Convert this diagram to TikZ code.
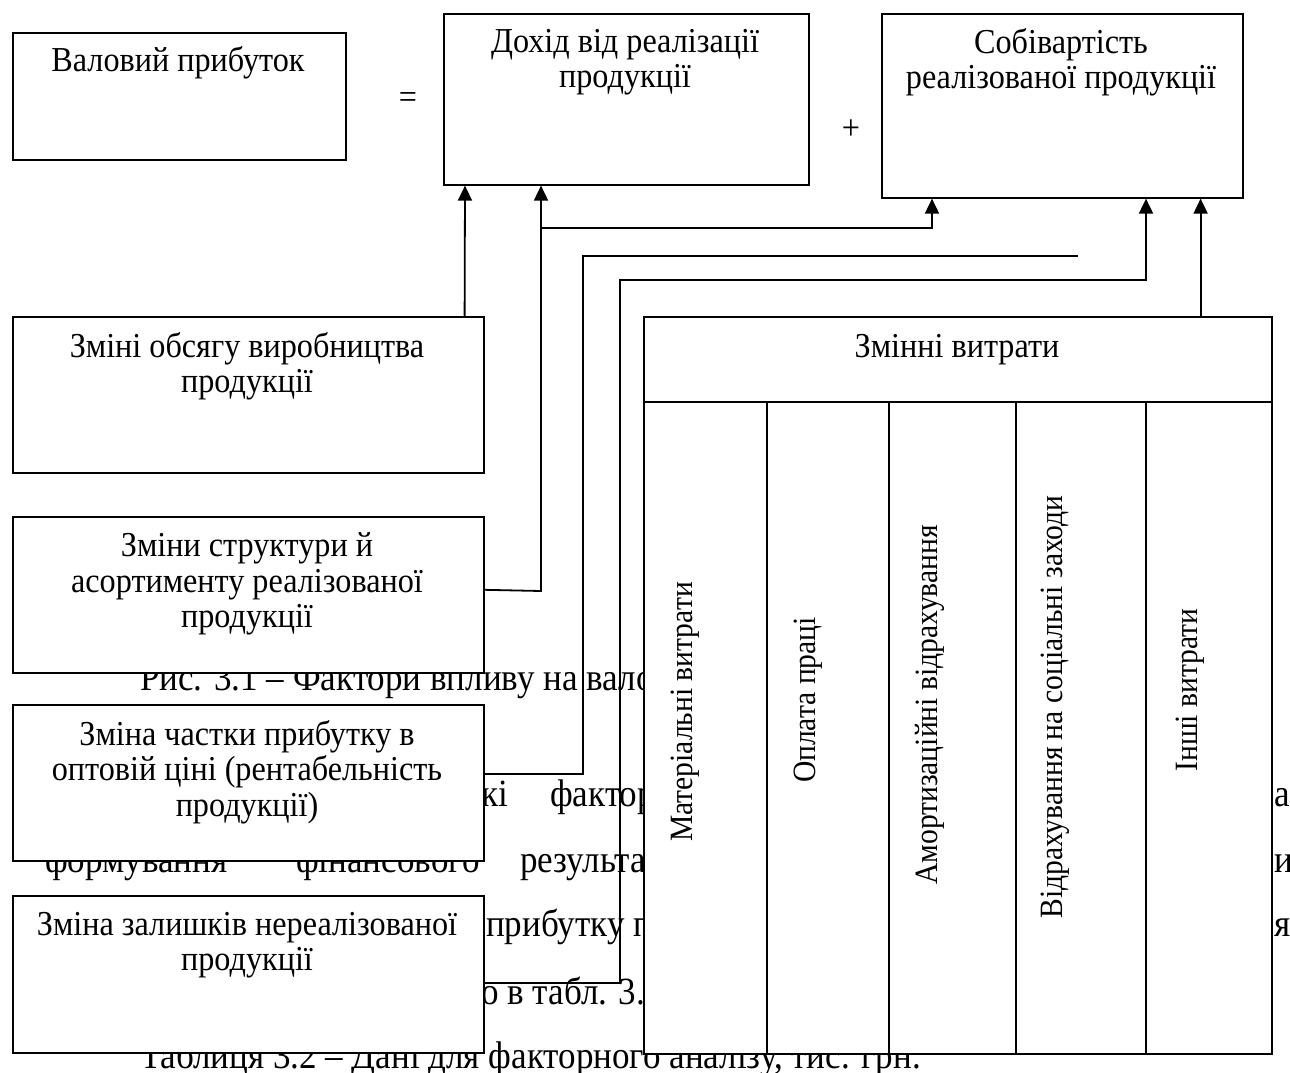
\documentclass[tikz,border=0pt]{standalone}
\usepackage{fontspec}
\setmainfont{Liberation Serif}
\newfontfamily\nfont[FakeStretch=0.92,Ligatures=TeX]{Liberation Serif}
\newfontfamily\bfontx[FakeStretch=0.91,Ligatures=TeX]{Liberation Serif}
\usetikzlibrary{arrows.meta}
\tikzset{
  box/.style={draw, line width=1.6pt, fill=white, inner sep=0pt, anchor=north west},
  btxt/.style={font=\nfont\fontsize{35}{35.5}\selectfont, align=center, inner sep=0pt},
  body/.style={font=\bfontx\fontsize{38.5}{44}\selectfont, inner sep=0pt, anchor=base west},
  vtxt/.style={font=\bfontx\fontsize{32.5}{35}\selectfont, inner sep=0pt, rotate=90},
  ln/.style={line width=1.8pt},
  arr/.style={line width=1.8pt, -{Triangle[length=15pt,width=14pt]}}
}
\begin{document}
\begin{tikzpicture}[x=1pt,y=-1pt]
\useasboundingbox (0,0) rectangle (1290,1072);
% background body text
\node[body] (r1) at (140,690) {Рис. 3.1 – Фактори впливу на валовий прибуток};
\node[body] (r2a) at (481,806) {кі};
\node[body] (r2b) at (550,806) {фактори};
\node[body] (r2e) at (1274,806) {а};
\node[body] (r3a) at (45,872) {формування};
\node[body] (r3b) at (296,872) {фінансового};
\node[body] (r3c) at (520,872) {результату};
\node[body] (r3e) at (1274,872) {и};
\node[body] (r4) at (486,936) {прибутку підприємства};
\node[body] (r4e) at (1274,936) {я};
\node[body] (r5) at (481,1004) {о в табл. 3.2};
\node[body] (r6) at (140,1068) {Таблиця 3.2 – Дані для факторного аналізу, тис. грн.};
% top row
\node[box, minimum width=333pt, minimum height=127pt] (val) at (12,32) {};
\node[btxt] (valt) at (178,63) {Валовий прибуток};
\node[btxt] (eq) at (408,100) {=};
\node[box, minimum width=365pt, minimum height=171pt] (doh) at (443,13) {};
\node[btxt] (doht) at (625,62) {Дохід від реалізації\\продукції};
\node[btxt] (plus) at (851,130) {+};
\node[box, minimum width=361pt, minimum height=184pt] (sob) at (881,13) {};
\node[btxt] (sobt) at (1061,62) {Собівартість\\реалізованої продукції};
% left factor boxes
\node[box, minimum width=471pt, minimum height=156pt] (b1) at (12,316) {};
\node[btxt] (b1t) at (247,366) {Зміні обсягу виробництва\\продукції};
\node[box, minimum width=471pt, minimum height=156pt] (b2) at (12,516) {};
\node[btxt] (b2t) at (247,584) {Зміни структури й\\асортименту реалізованої\\продукції};
\node[box, minimum width=471pt, minimum height=156pt] (b3) at (12,704) {};
\node[btxt] (b3t) at (247,772) {Зміна частки прибутку в\\оптовій ціні (рентабельність\\продукції)};
\node[box, minimum width=471pt, minimum height=157pt] (b4) at (12,895) {};
\node[btxt] (b4t) at (247,945) {Зміна залишків нереалізованої\\продукції};
% variable costs table
\node[box, minimum width=628pt, minimum height=737pt] (zm) at (643,316) {};
\node[btxt] (zmt) at (957,350) {Змінні витрати};
\coordinate (hl) at (643,402);
\coordinate (hr) at (1271,402);
\draw[ln] (hl) -- (hr);
\foreach \xx in {767,889,1016,1146} \draw[ln] (\xx,402) -- (\xx,1053);
\node[vtxt] (c1) at (685,712) {Матеріальні витрати};
\node[vtxt] (c2) at (808,700) {Оплата праці};
\node[vtxt] (c3t) at (930,705) {Амортизаційні відрахування};
\node[vtxt] (c4t) at (1055,707) {Відрахування на соціальні заходи};
\node[vtxt] (c5) at (1190,690) {Інші витрати};
% connectors
\draw[arr] ([xshift=-20pt]b1.north east) -- ([xshift=22pt]doh.south west);
\coordinate (j1) at (541,591);
\draw[arr] ([yshift=5pt]b2.east) -- (j1) -- (j1 |- doh.south);
\coordinate (h1) at (541,228);
\coordinate (h1e) at (932,228);
\draw[arr] (h1) -- (h1e) -- (h1e |- sob.south);
\coordinate (k3) at (583,774);
\coordinate (d3) at (1078,256);
\draw[ln] (b3.east |- k3) -- (k3) -- (k3 |- d3) -- (d3);
\coordinate (k4) at (620,983);
\coordinate (h4) at (1146,280);
\draw[arr] (b4.east |- k4) -- (k4) -- (k4 |- h4) -- (h4) -- (h4 |- sob.south);
\draw[arr] ([xshift=-72pt]zm.north east) -- ([xshift=-72pt]zm.north east |- sob.south);
\end{tikzpicture}
\end{document}
